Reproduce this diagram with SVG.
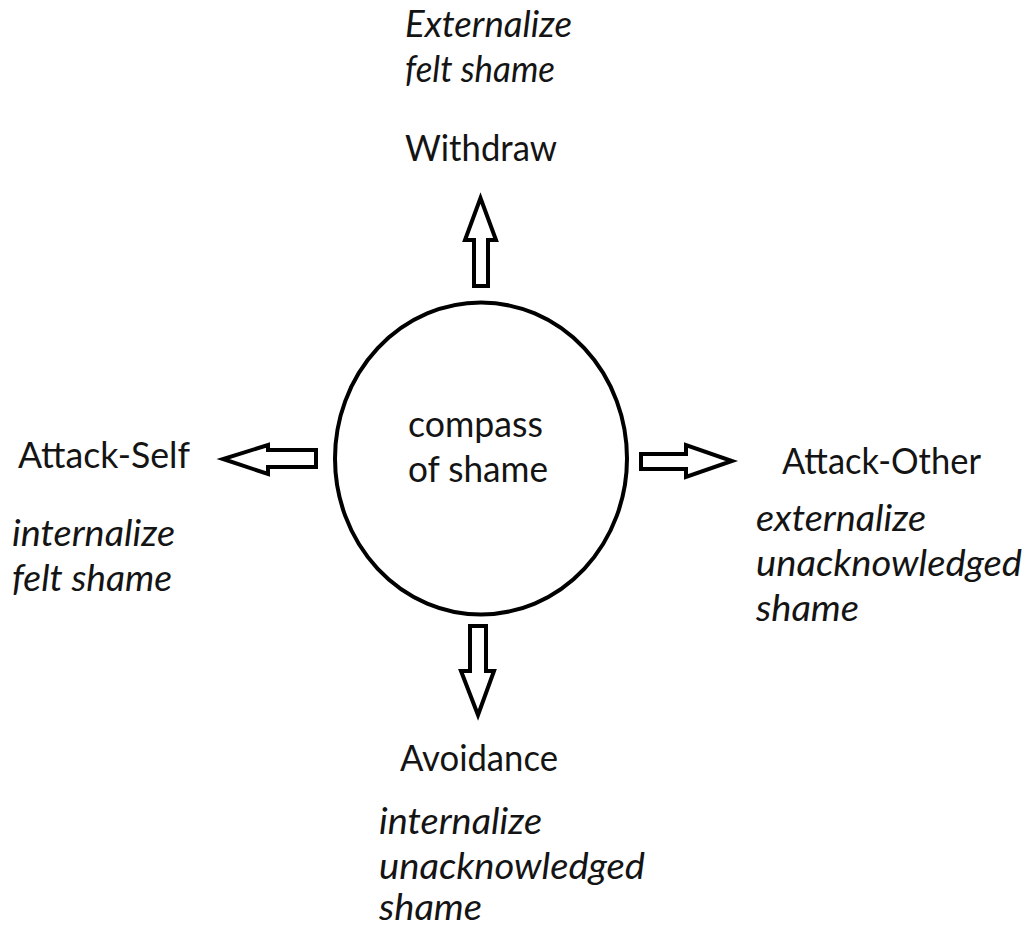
<svg xmlns="http://www.w3.org/2000/svg" width="1027" height="929" viewBox="0 0 1027 929">
<style>
.t{font-family:Lato,"Open Sans","Liberation Sans",sans-serif;font-size:36px;fill:#141414}
.i{font-style:italic}
.arr{fill:#fff;stroke:#000;stroke-width:4;stroke-linejoin:miter}
</style>
<rect width="1027" height="929" fill="#fff"/>
<g id="center">
<ellipse cx="481" cy="458.5" rx="146" ry="156" fill="#fff" stroke="#000" stroke-width="4"/>
<text class="t" x="408" y="437" textLength="135" lengthAdjust="spacingAndGlyphs">compass</text>
<text class="t" x="408" y="482" textLength="140" lengthAdjust="spacingAndGlyphs">of shame</text>
</g>
<g id="connectors">
<polygon class="arr" points="474,286 488,286 488,240 496,240 480.5,198 465,240 474,240"/>
<polygon class="arr" points="316,450 316,467 268,467 268,474 223,459 268,445 268,450"/>
<polygon class="arr" points="641,454 641,469 686,469 686,477 732,461 686,445 686,454"/>
<polygon class="arr" points="470,626 486,626 486,671 494,671 478,715 461,671 470,671"/>
</g>
<g id="withdraw">
<text class="t i" x="405" y="37" textLength="167" lengthAdjust="spacingAndGlyphs">Externalize</text>
<text class="t i" x="405" y="82" textLength="150" lengthAdjust="spacingAndGlyphs">felt shame</text>
<text class="t" x="405" y="161" textLength="152" lengthAdjust="spacingAndGlyphs">Withdraw</text>
</g>
<g id="attack-self">
<text class="t" x="18" y="468" textLength="172" lengthAdjust="spacingAndGlyphs">Attack-Self</text>
<text class="t i" x="12" y="546" textLength="163" lengthAdjust="spacingAndGlyphs">internalize</text>
<text class="t i" x="12" y="591" textLength="160" lengthAdjust="spacingAndGlyphs">felt shame</text>
</g>
<g id="attack-other">
<text class="t" x="782" y="474" textLength="199" lengthAdjust="spacingAndGlyphs">Attack-Other</text>
<text class="t i" x="756" y="531" textLength="170" lengthAdjust="spacingAndGlyphs">externalize</text>
<text class="t i" x="756" y="576" textLength="266" lengthAdjust="spacingAndGlyphs">unacknowledged</text>
<text class="t i" x="756" y="621" textLength="103" lengthAdjust="spacingAndGlyphs">shame</text>
</g>
<g id="avoidance">
<text class="t" x="400" y="771" textLength="158" lengthAdjust="spacingAndGlyphs">Avoidance</text>
<text class="t i" x="379" y="834" textLength="163" lengthAdjust="spacingAndGlyphs">internalize</text>
<text class="t i" x="379" y="879" textLength="266" lengthAdjust="spacingAndGlyphs">unacknowledged</text>
<text class="t i" x="379" y="920" textLength="103" lengthAdjust="spacingAndGlyphs">shame</text>
</g>
</svg>
